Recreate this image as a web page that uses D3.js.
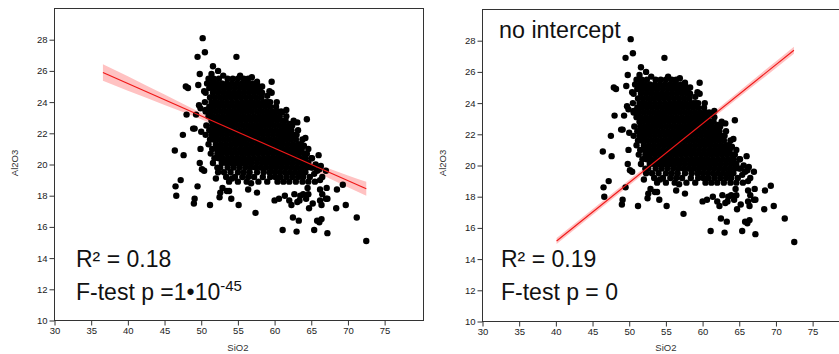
<!DOCTYPE html>
<html>
<head>
<meta charset="utf-8">
<script src="https://cdn.jsdelivr.net/npm/d3@7"></script>
<style>
  body { margin: 0; background: #fff; }
  text { font-family: "Liberation Sans", Arial, Helvetica, sans-serif; }
</style>
</head>
<body>
<svg width="839" height="354"></svg>
<script>
// tick labels
var xTicks = [30, 35, 40, 45, 50, 55, 60, 65, 70, 75];
var yTicks = [10, 12, 14, 16, 18, 20, 22, 24, 26, 28];

// scattered samples [SiO2, Al2O3]
var outliers = [
  [50.2,28.1],[50.5,27.2],[49.5,26.9],[54.8,26.9],[51.6,26.3],[52.3,26.0],[49.8,25.8],[49.6,25.1],[47.9,25.0],[48.2,24.9],
  [59.6,25.3],[59.3,24.7],[59.6,24.6],[50.4,24.7],[60.3,24.0],[61.6,23.5],[48.0,23.2],[49.3,23.2],[49.9,23.6],[64.4,22.9],
  [62.6,22.8],[63.1,22.7],[47.5,21.9],[48.9,22.3],[49.1,22.3],[50.0,22.1],[64.2,21.7],[46.4,20.9],[47.6,20.6],[49.9,21.0],
  [49.8,20.1],[50.1,19.7],[50.4,19.6],[66.0,20.6],[65.0,20.4],[47.2,19.0],[46.5,18.6],[46.6,18.0],[49.5,18.6],[49.1,17.8],
  [49.0,17.5],[51.2,17.4],[52.5,17.9],[52.9,18.5],[53.5,18.3],[53.8,18.3],[52.6,18.2],[54.1,17.8],[55.1,17.4],[57.4,16.9],
  [56.4,18.4],[57.6,18.2],[56.8,18.8],[60.0,17.7],[60.6,17.8],[61.4,18.0],[62.0,17.7],[62.7,18.1],[63.4,17.7],[62.3,17.4],
  [63.1,17.6],[64.7,17.2],[65.2,17.5],[66.4,17.4],[62.5,16.6],[63.3,16.4],[61.1,15.8],[63.0,15.7],[65.4,15.8],[67.2,15.6],
  [65.8,16.4],[66.1,16.3],[66.4,16.5],[68.4,17.2],[69.7,17.4],[71.2,16.6],[72.5,15.1],[68.5,18.4],[69.3,18.7],[67.0,17.8],
  [67.2,17.8],[66.2,17.7],[66.5,18.1],[66.2,18.4],[67.1,18.5],[66.2,19.0],[65.5,18.9],[64.5,18.5],[63.9,18.1],[63.5,18.0],
  [64.3,17.8],[64.6,18.1],[65.4,19.4],[65.8,19.6],[66.1,19.7],[66.5,19.2],[67.0,19.6],[66.3,19.9],[65.6,20.0],[65.2,19.8],
  [49.7,23.8],[50.6,23.5],[54.2,19.1],[52.0,19.1],[58.8,24.0],[61.0,23.35],[61.5,22.3],
  [51.4,25.8],[53.0,25.7],[55.3,25.7],[56.9,25.6],[57.6,25.3],[58.3,25.0],[59.0,24.4],[62.1,22.6],[64.0,21.2]
];

// dense core, one row per Al2O3 level: [Al2O3, [SiO2 ...]]
var coreRows = [
  [25.5, [51.0, 51.7, 52.4, 53.6, 54.3, 55.0, 55.8, 56.4]],
  [25.2, [50.8, 51.5, 52.1, 52.8, 53.5, 54.2, 54.9, 55.6, 56.3, 57.0, 57.6]],
  [24.9, [51.1, 51.8, 52.5, 53.2, 53.9, 54.6, 55.3, 56.0, 56.7, 57.4, 58.0]],
  [24.6, [50.6, 51.6, 52.3, 53.0, 53.7, 54.4, 55.1, 55.8, 56.5, 57.2, 57.9, 58.3]],
  [24.3, [51.2, 51.9, 52.6, 53.3, 54.0, 54.7, 55.4, 56.1, 56.8, 57.5, 58.2]],
  [24.0, [50.5, 51.4, 52.1, 52.8, 53.5, 54.2, 54.9, 55.6, 56.3, 57.0, 57.7, 58.4, 59.1, 59.4]],
  [23.7, [51.1, 51.7, 52.4, 53.1, 53.8, 54.5, 55.2, 55.9, 56.6, 57.3, 58.0, 58.7, 59.4, 60.2]],
  [23.4, [50.6, 51.3, 52.0, 52.7, 53.4, 54.1, 54.8, 55.5, 56.2, 56.9, 57.6, 58.3, 59.0, 59.7, 60.4, 60.9]],
  [23.1, [51.0, 51.6, 52.3, 53.0, 53.7, 54.4, 55.1, 55.8, 56.5, 57.2, 57.9, 58.6, 59.3, 60.0, 60.7, 61.6]],
  [22.8, [51.4, 51.9, 52.6, 53.3, 54.0, 54.7, 55.4, 56.1, 56.8, 57.5, 58.2, 58.9, 59.6, 60.3, 61.0, 61.5]],
  [22.5, [50.7, 51.5, 52.2, 52.9, 53.6, 54.3, 55.0, 55.7, 56.4, 57.1, 57.8, 58.5, 59.2, 59.9, 60.6, 61.3, 62.0, 62.4]],
  [22.2, [51.1, 51.8, 52.5, 53.2, 53.9, 54.6, 55.3, 56.0, 56.7, 57.4, 58.1, 58.8, 59.5, 60.2, 60.9, 61.6, 62.3, 63.2]],
  [21.9, [50.6, 51.4, 52.1, 52.8, 53.5, 54.2, 54.9, 55.6, 56.3, 57.0, 57.7, 58.4, 59.1, 59.8, 60.5, 61.2, 61.9, 62.6, 63.0]],
  [21.6, [51.2, 51.7, 52.4, 53.1, 53.8, 54.5, 55.2, 55.9, 56.6, 57.3, 58.0, 58.7, 59.4, 60.1, 60.8, 61.5, 62.2, 62.9, 63.8]],
  [21.3, [51.0, 52.0, 52.7, 53.4, 54.1, 54.8, 55.5, 56.2, 56.9, 57.6, 58.3, 59.0, 59.7, 60.4, 61.1, 61.8, 62.5, 63.2, 63.6]],
  [21.0, [51.5, 52.1, 52.5, 53.2, 53.9, 54.6, 55.3, 56.0, 56.7, 57.4, 58.1, 58.8, 59.5, 60.2, 60.9, 61.6, 62.3, 63.0, 63.7, 64.6]],
  [20.7, [51.3, 52.2, 52.8, 53.5, 54.2, 54.9, 55.6, 56.3, 57.0, 57.7, 58.4, 59.1, 59.8, 60.5, 61.2, 61.9, 62.6, 63.3, 64.0, 64.4]],
  [20.4, [51.8, 52.4, 53.0, 53.7, 54.4, 55.1, 55.8, 56.5, 57.2, 57.9, 58.6, 59.3, 60.0, 60.7, 61.4, 62.1, 62.8, 63.5, 64.2, 65.1]],
  [20.1, [51.6, 52.8, 53.4, 54.1, 54.8, 55.5, 56.2, 56.9, 57.6, 58.3, 59.0, 59.7, 60.4, 61.1, 61.8, 62.5, 63.2, 63.9, 64.6]],
  [19.8, [52.2, 52.6, 53.6, 54.4, 55.2, 56.0, 56.7, 57.4, 58.1, 58.8, 59.5, 60.2, 60.9, 61.6, 62.3, 63.0, 63.7, 64.4, 65.0]],
  [19.5, [52.3, 53.1, 54.0, 55.0, 55.8, 56.6, 57.6, 58.5, 59.3, 60.0, 60.7, 61.4, 62.1, 62.8, 63.5, 64.2]],
  [19.2, [53.4, 54.6, 55.6, 56.4, 57.2, 58.4, 59.4, 60.1, 60.8, 61.6, 62.4, 63.2, 63.9, 64.8]],
  [18.9, [53.8, 55.0, 56.2, 57.8, 59.0, 60.4, 61.2, 62.0, 62.9, 63.8, 64.6]]
];

// fitted lines and confidence bands [SiO2, low, high]
var fitLeft = [[36.6, 25.9], [72.5, 18.44]];
var bandLeft = [[36.6, 25.37, 26.43], [40, 24.72, 25.66], [45, 23.82, 24.48], [50, 22.9, 23.3],
                [55, 21.86, 22.08], [57, 21.44, 21.64], [60, 20.81, 21.07], [65, 19.68, 20.18],
                [70, 18.54, 19.3], [72.5, 17.99, 18.89]];
var fitRight = [[40.1, 15.16], [72.45, 27.39]];
var bandRight = [[40.1, 14.97, 15.35], [56, 21.0, 21.34], [72.45, 27.16, 27.62]];

var panels = [
  { dx: 0, dy: 0, fit: fitLeft, band: bandLeft, note: null,
    r2: "R\u00b2 = 0.18", r2x: 76, ptext: "F-test p =1\u202210", pexp: "-45", px: 76 },
  { dx: 428, dy: 1, fit: fitRight, band: bandRight, note: "no intercept",
    r2: "R\u00b2 = 0.19", r2x: 73, ptext: "F-test p = 0", pexp: null, px: 73 }
];

var samples = outliers.slice();
coreRows.forEach(function(r) {
  r[1].forEach(function(s) { samples.push([s, r[0]]); });
});

var svg = d3.select("svg");
var x = d3.scaleLinear().domain([30, 80.3]).range([54.5, 423.5]);
var y = d3.scaleLinear().domain([10, 30]).range([320.5, 8.5]);

panels.forEach(function(p) {
  var g = svg.append("g").attr("transform", "translate(" + p.dx + "," + p.dy + ")");

  // frame
  g.append("rect")
    .attr("x", x(30)).attr("y", y(30))
    .attr("width", x(80.3) - x(30)).attr("height", y(10) - y(30))
    .attr("fill", "none").attr("stroke", "#333").attr("stroke-width", 1);

  var xAxis = d3.axisBottom(x).tickValues(xTicks).tickSize(5).tickPadding(2).tickSizeOuter(0);
  var yAxis = d3.axisLeft(y).tickValues(yTicks).tickSize(5).tickPadding(2).tickSizeOuter(0);

  var gx = g.append("g").attr("transform", "translate(0," + y(10) + ")").call(xAxis);
  var gy = g.append("g").attr("transform", "translate(" + x(30) + ",0)").call(yAxis);
  [gx, gy].forEach(function(a) {
    a.select(".domain").remove();
    a.selectAll("line").attr("stroke", "#333");
    a.selectAll("text").attr("fill", "#222").style("font-size", "9.5px")
      .style("font-family", "'Liberation Sans', Arial, sans-serif");
  });

  g.append("text")
    .attr("x", x(55)).attr("y", 351 - p.dy)
    .attr("text-anchor", "middle").attr("fill", "#333").style("font-size", "9.5px")
    .text("SiO2");
  g.append("text")
    .attr("transform", "translate(18," + (163 - p.dy) + ") rotate(-90)")
    .attr("text-anchor", "middle").attr("fill", "#333").style("font-size", "9.5px")
    .text("Al2O3");

  // confidence band
  g.append("path")
    .datum(p.band)
    .attr("fill", "#ffc2c2")
    .attr("d", d3.area()
      .x(function(d) { return x(d[0]); })
      .y0(function(d) { return y(d[1]); })
      .y1(function(d) { return y(d[2]); })
      .curve(d3.curveMonotoneX));

  g.selectAll(".dot")
    .data(samples)
    .enter()
    .append("circle")
    .attr("cx", function(d) { return x(d[0]); })
    .attr("cy", function(d) { return y(d[1]); })
    .attr("r", 3.2)
    .attr("fill", "#000");

  g.append("path")
    .datum(p.fit)
    .attr("fill", "none")
    .attr("stroke", "#f01818")
    .attr("stroke-width", 1.1)
    .attr("d", d3.line()
      .x(function(d) { return x(d[0]); })
      .y(function(d) { return y(d[1]); }));

  if (p.note) {
    g.append("text").attr("x", 71).attr("y", 37).attr("fill", "#111")
      .style("font-size", "23.3px").text(p.note);
  }
  g.append("text").attr("x", p.r2x).attr("y", 267 - p.dy).attr("fill", "#111")
    .style("font-size", "23px").text(p.r2);
  var t = g.append("text").attr("x", p.px).attr("y", 300 - p.dy).attr("fill", "#111")
    .style("font-size", "23px").text(p.ptext);
  if (p.pexp) {
    t.append("tspan").attr("dy", -9).style("font-size", "15px").text(p.pexp);
  }
});
</script>
</body>
</html>
